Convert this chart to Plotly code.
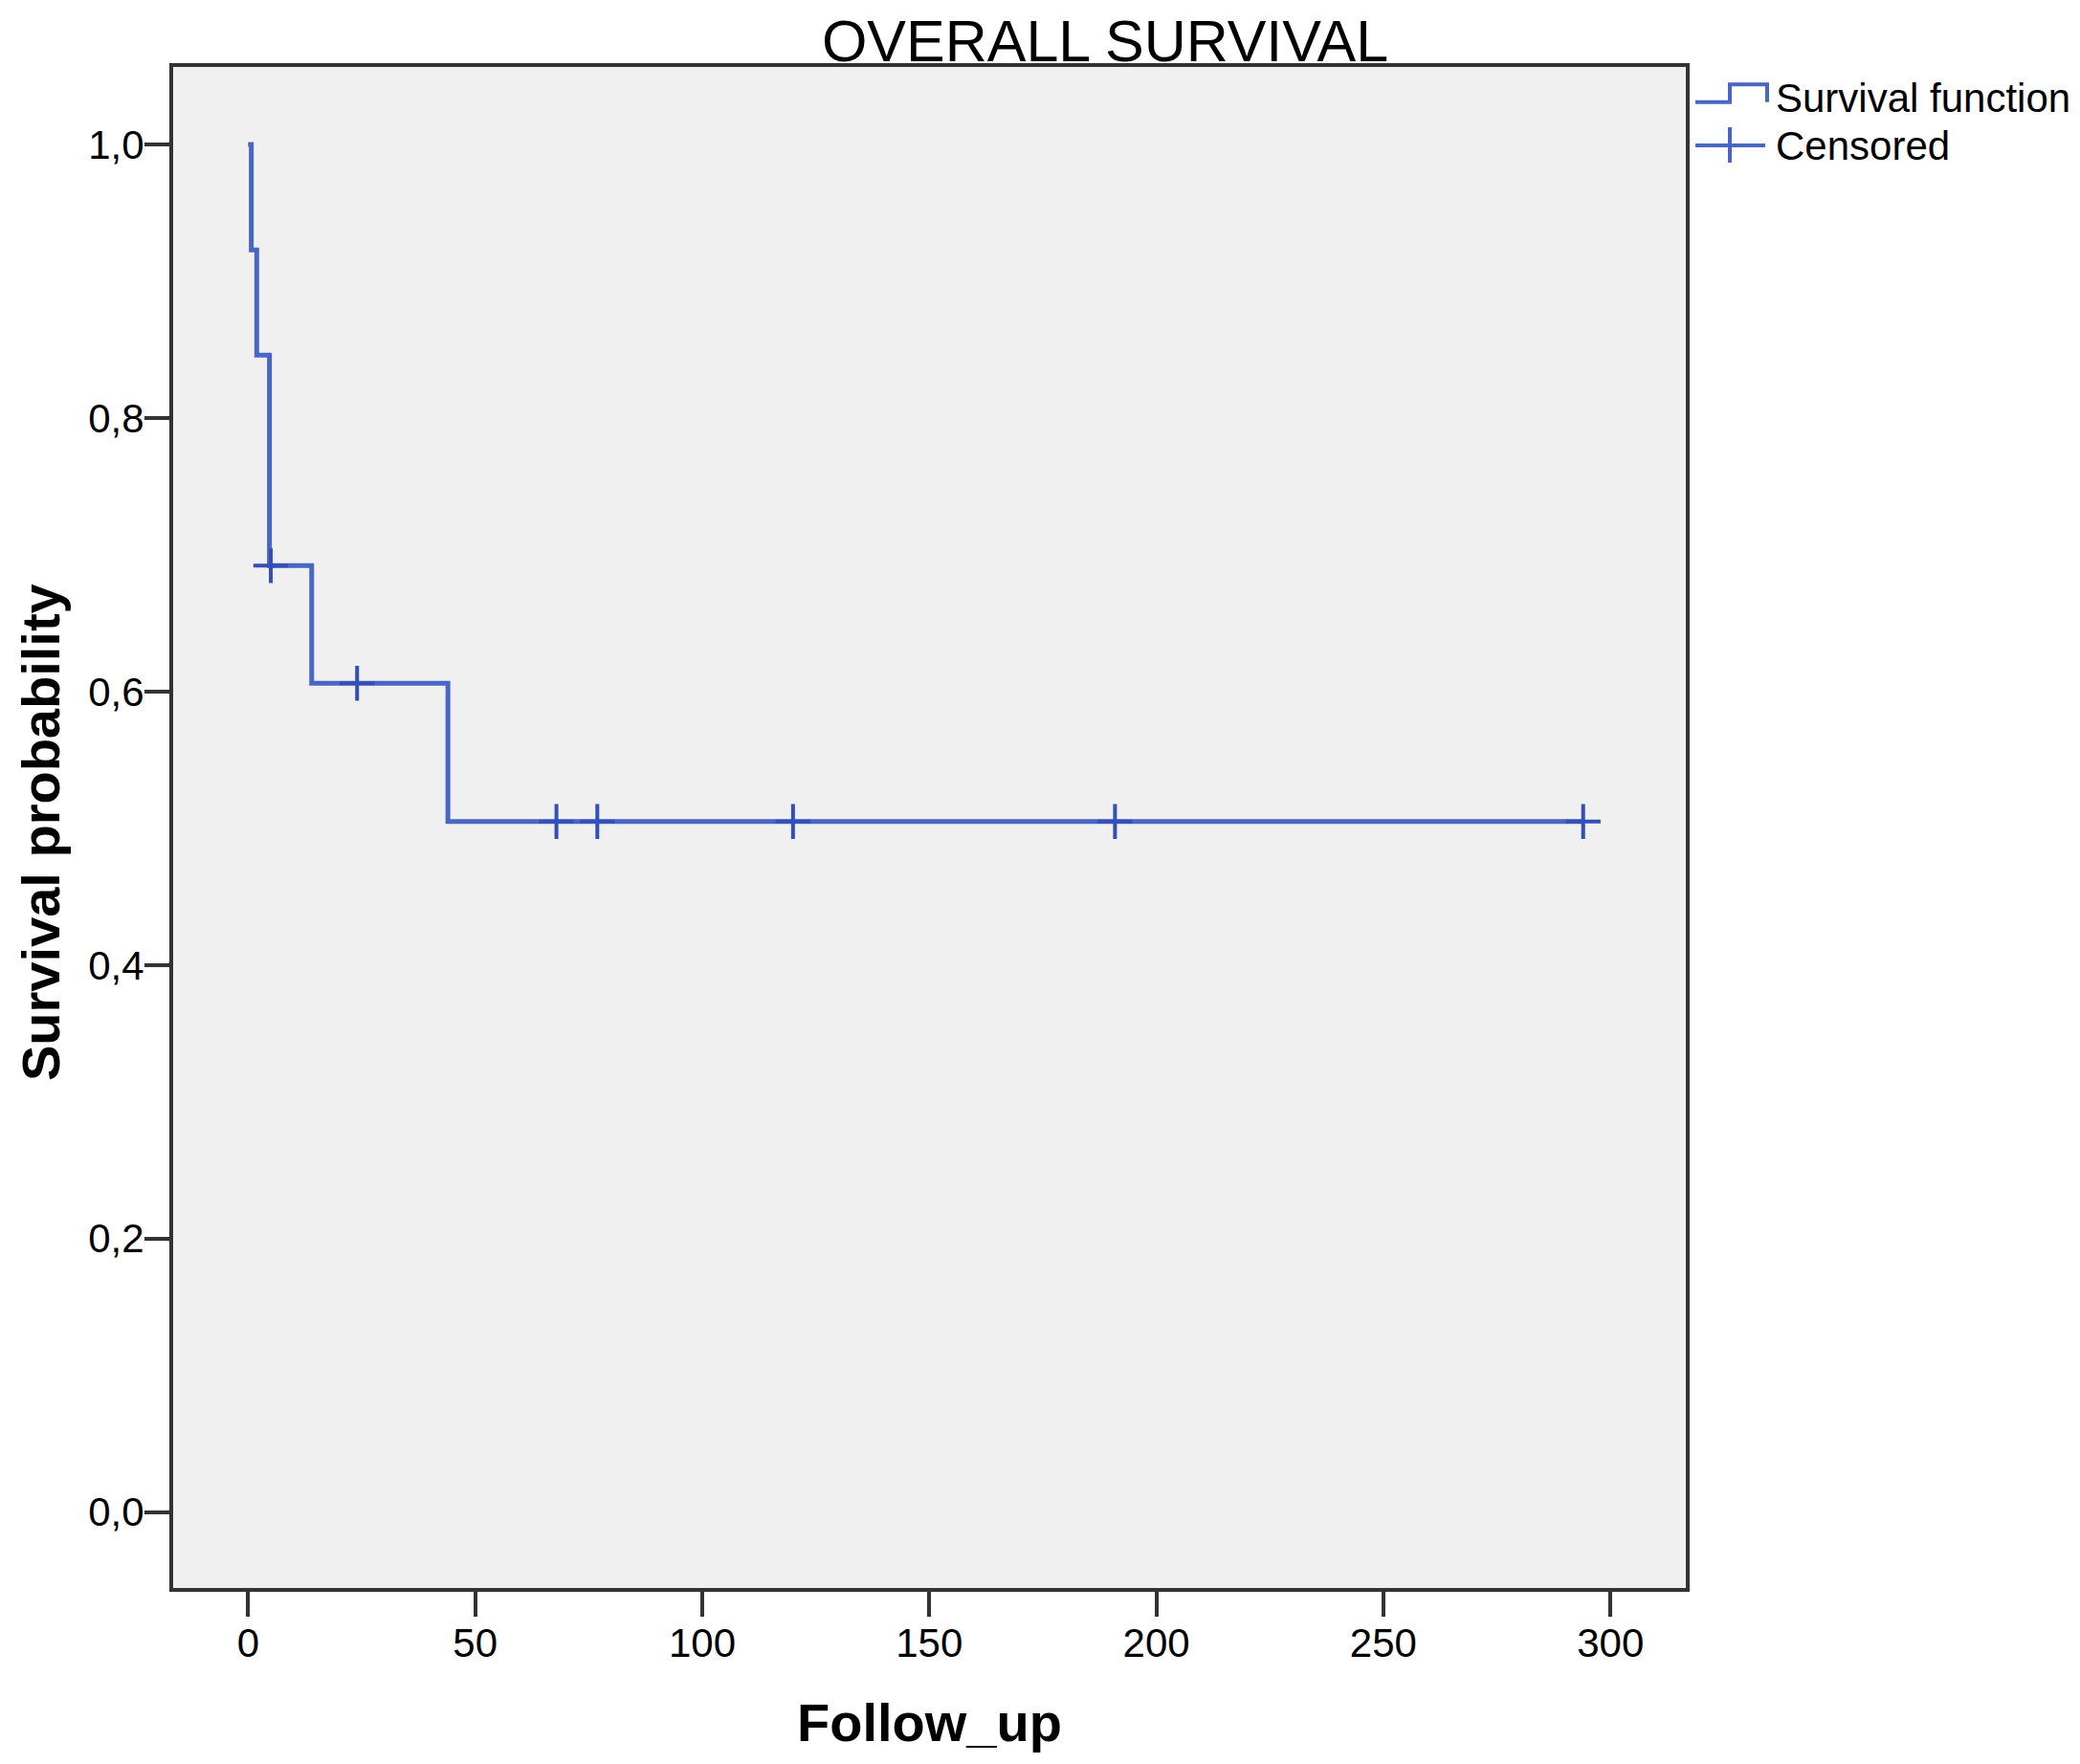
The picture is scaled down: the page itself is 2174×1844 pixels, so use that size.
import plotly.graph_objects as go

# Kaplan-Meier step function (time, survival probability)
step_time = [0, 0.7, 1.9, 4.7, 14.0, 44.0, 294.0]
step_surv = [1.0, 0.923, 0.846, 0.692, 0.606, 0.505, 0.505]

# Censored observations
censor_time = [5.0, 24.0, 67.9, 76.9, 120.0, 190.9, 294.0]
censor_surv = [0.692, 0.606, 0.505, 0.505, 0.505, 0.505, 0.505]

x_ticks = [0, 50, 100, 150, 200, 250, 300]
y_ticks = [0.0, 0.2, 0.4, 0.6, 0.8, 1.0]
y_ticklabels = ["0,0", "0,2", "0,4", "0,6", "0,8", "1,0"]

legend_labels = ["Survival function", "Censored"]

LINE_COLOR = "#4a66c4"
MARK_COLOR = "#3350b8"
FONT = "Liberation Sans, Arial, sans-serif"

W, H = 2158, 1828
ML, MR, MT, MB = 173, 404, 62, 176
PW, PH = W - ML - MR, H - MT - MB


def px(x):
    return (x - ML) / PW


def py(y):
    return (H - MB - y) / PH


fig = go.Figure()
fig.add_trace(go.Scatter(
    x=step_time, y=step_surv, mode="lines", line_shape="hv",
    line=dict(color=LINE_COLOR, width=5), name=legend_labels[0],
    showlegend=False,
))
fig.add_trace(go.Scatter(
    x=censor_time, y=censor_surv, mode="markers",
    marker=dict(symbol="cross-thin", size=26, line=dict(color=MARK_COLOR, width=4)),
    name=legend_labels[1], showlegend=False,
))

axis_common = dict(
    showline=True, linecolor="#333333", linewidth=4, mirror=True,
    ticks="outside", ticklen=26, tickwidth=4, tickcolor="#333333",
    showgrid=False, zeroline=False, ticklabelstandoff=-8, automargin=False,
    tickfont=dict(family=FONT, size=42, color="black"),
)

# custom legend (paper coordinates), mimicking SPSS icons
shapes = [
    dict(type="path", xref="paper", yref="paper",
         path=(f"M {px(1764)},{py(98.7)} L {px(1800)},{py(98.7)} L {px(1800)},{py(80.3)} "
               f"L {px(1839)},{py(80.3)} L {px(1839)},{py(98.7)}"),
         line=dict(color=LINE_COLOR, width=4)),
    dict(type="line", xref="paper", yref="paper",
         x0=px(1764), x1=px(1837), y0=py(144), y1=py(144),
         line=dict(color=LINE_COLOR, width=4)),
    dict(type="line", xref="paper", yref="paper",
         x0=px(1800), x1=px(1800), y0=py(125), y1=py(162),
         line=dict(color=LINE_COLOR, width=4)),
]
annotations = [
    dict(text=legend_labels[0], xref="paper", yref="paper", x=px(1846), y=py(94),
         xanchor="left", yanchor="middle", showarrow=False,
         font=dict(family=FONT, size=42, color="black")),
    dict(text=legend_labels[1], xref="paper", yref="paper", x=px(1846), y=py(144),
         xanchor="left", yanchor="middle", showarrow=False,
         font=dict(family=FONT, size=42, color="black")),
    # axis titles
    dict(text="<b>Follow_up</b>", xref="paper", yref="paper", x=px(963), y=py(1792),
         xanchor="center", yanchor="middle", showarrow=False,
         font=dict(family=FONT, size=56, color="black")),
    dict(text="<b>Survival probability</b>", xref="paper", yref="paper", x=px(34), y=py(862),
         xanchor="center", yanchor="middle", showarrow=False, textangle=-90,
         font=dict(family=FONT, size=56, color="black")),
]

fig.update_layout(
    width=W, height=H,
    margin=dict(l=ML, r=MR, t=MT, b=MB),
    paper_bgcolor="white", plot_bgcolor="#f0f0f0",
    separators=",.",
    title=dict(text="OVERALL SURVIVAL", x=0.5315, xanchor="center",
               y=1 - 35 / H, yanchor="middle", yref="container",
               font=dict(family=FONT, size=61, color="black")),
    xaxis=dict(range=[-16.5, 316.6], tickvals=x_ticks, **axis_common),
    yaxis=dict(range=[-0.0555, 1.0567], tickvals=y_ticks, ticktext=y_ticklabels,
               **axis_common),
    shapes=shapes,
    annotations=annotations,
    showlegend=False,
)

fig.write_html("out.html")
